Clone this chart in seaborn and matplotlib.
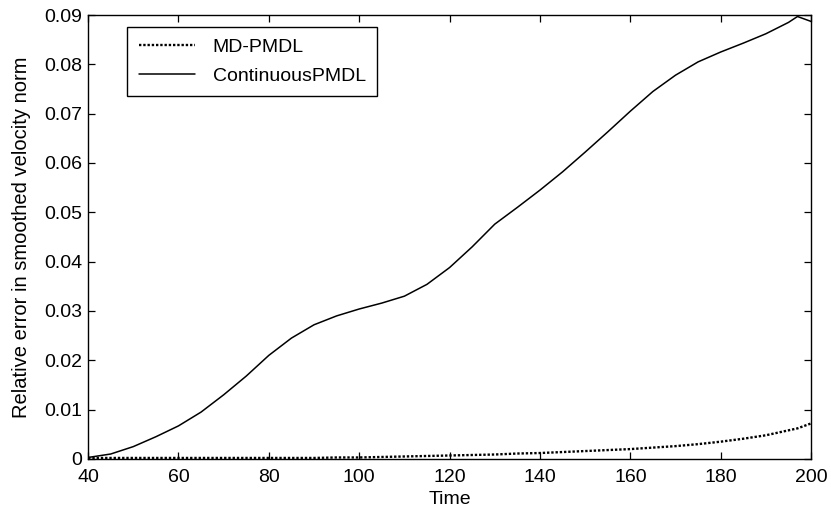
import pandas as pd
import seaborn as sns
import matplotlib.pyplot as plt

# Verdier lest av figuren
time = [40, 45, 50, 55, 60, 65, 70, 75, 80, 85, 90, 95, 100, 105, 110, 115,
        120, 125, 130, 135, 140, 145, 150, 155, 160, 165, 170, 175, 180, 185,
        190, 195, 197, 200]
continuous = [0.0003, 0.0010, 0.0025, 0.0045, 0.0067, 0.0095, 0.0130, 0.0168,
              0.0210, 0.0245, 0.0272, 0.0290, 0.0304, 0.0316, 0.0330, 0.0354,
              0.0388, 0.0430, 0.0476, 0.0510, 0.0545, 0.0582, 0.0622, 0.0663,
              0.0705, 0.0745, 0.0778, 0.0805, 0.0825, 0.0843, 0.0862, 0.0885,
              0.0897, 0.0887]
md_pmdl = [0.0002, 0.0002, 0.0002, 0.0002, 0.0002, 0.0002, 0.0002, 0.0002,
           0.0002, 0.0002, 0.0002, 0.0003, 0.0003, 0.0004, 0.0005, 0.0006,
           0.0007, 0.0008, 0.0009, 0.0011, 0.0012, 0.0014, 0.0016, 0.0018,
           0.0020, 0.0023, 0.0026, 0.0030, 0.0035, 0.0041, 0.0048, 0.0058,
           0.0062, 0.0072]

df = pd.DataFrame({'Time': time * 2,
                   'Error': md_pmdl + continuous,
                   'Method': ['MD-PMDL'] * len(time) + ['ContinuousPMDL'] * len(time)})

sns.set_style('ticks')
plt.rcParams['font.family'] = ['Liberation Sans', 'DejaVu Sans']
plt.rcParams['xtick.direction'] = 'in'
plt.rcParams['ytick.direction'] = 'in'
plt.rcParams['text.color'] = 'black'
plt.rcParams['axes.labelcolor'] = 'black'
plt.rcParams['xtick.labelcolor'] = 'black'
plt.rcParams['ytick.labelcolor'] = 'black'

fig, ax = plt.subplots(figsize=(8.31, 5.18), dpi=100)
sns.lineplot(data=df, x='Time', y='Error', hue='Method', style='Method',
             palette=['black', 'black'], dashes={'MD-PMDL': (1, 0.8), 'ContinuousPMDL': ''},
             linewidth=1.1, ax=ax)
# den prikkede linja er tykkere i originalen
ax.lines[0].set_linewidth(1.7)

ax.set_xlim(40, 200)
ax.set_ylim(0, 0.09)
ax.set_xticks(range(40, 201, 20))
ax.set_yticks([i / 100 for i in range(10)])
ax.set_yticklabels(['0'] + [f'{i / 100:.2f}' for i in range(1, 10)])
ax.tick_params(labelsize=14, length=5, width=0.9, pad=4, top=True, right=True, color='black')
ax.tick_params(axis='x', pad=7)
for s in ax.spines.values():
    s.set_linewidth(1.0)
    s.set_color('black')
ax.set_xlabel('Time', fontsize=14, labelpad=4)
ax.set_ylabel('Relative error in smoothed velocity norm', fontsize=14.5, labelpad=10)

leg = ax.legend(loc='upper left', bbox_to_anchor=(0.054, 0.973), borderaxespad=0,
                fontsize=14, frameon=True, fancybox=False, edgecolor='black',
                framealpha=1, handlelength=2.9, handletextpad=0.9,
                borderpad=0.6, labelspacing=0.55)
leg.get_frame().set_linewidth(1.0)
leg.get_lines()[0].set_linewidth(1.7)

plt.subplots_adjust(left=0.106, right=0.976, top=0.971, bottom=0.114)
plt.savefig('out.png', dpi=100)
